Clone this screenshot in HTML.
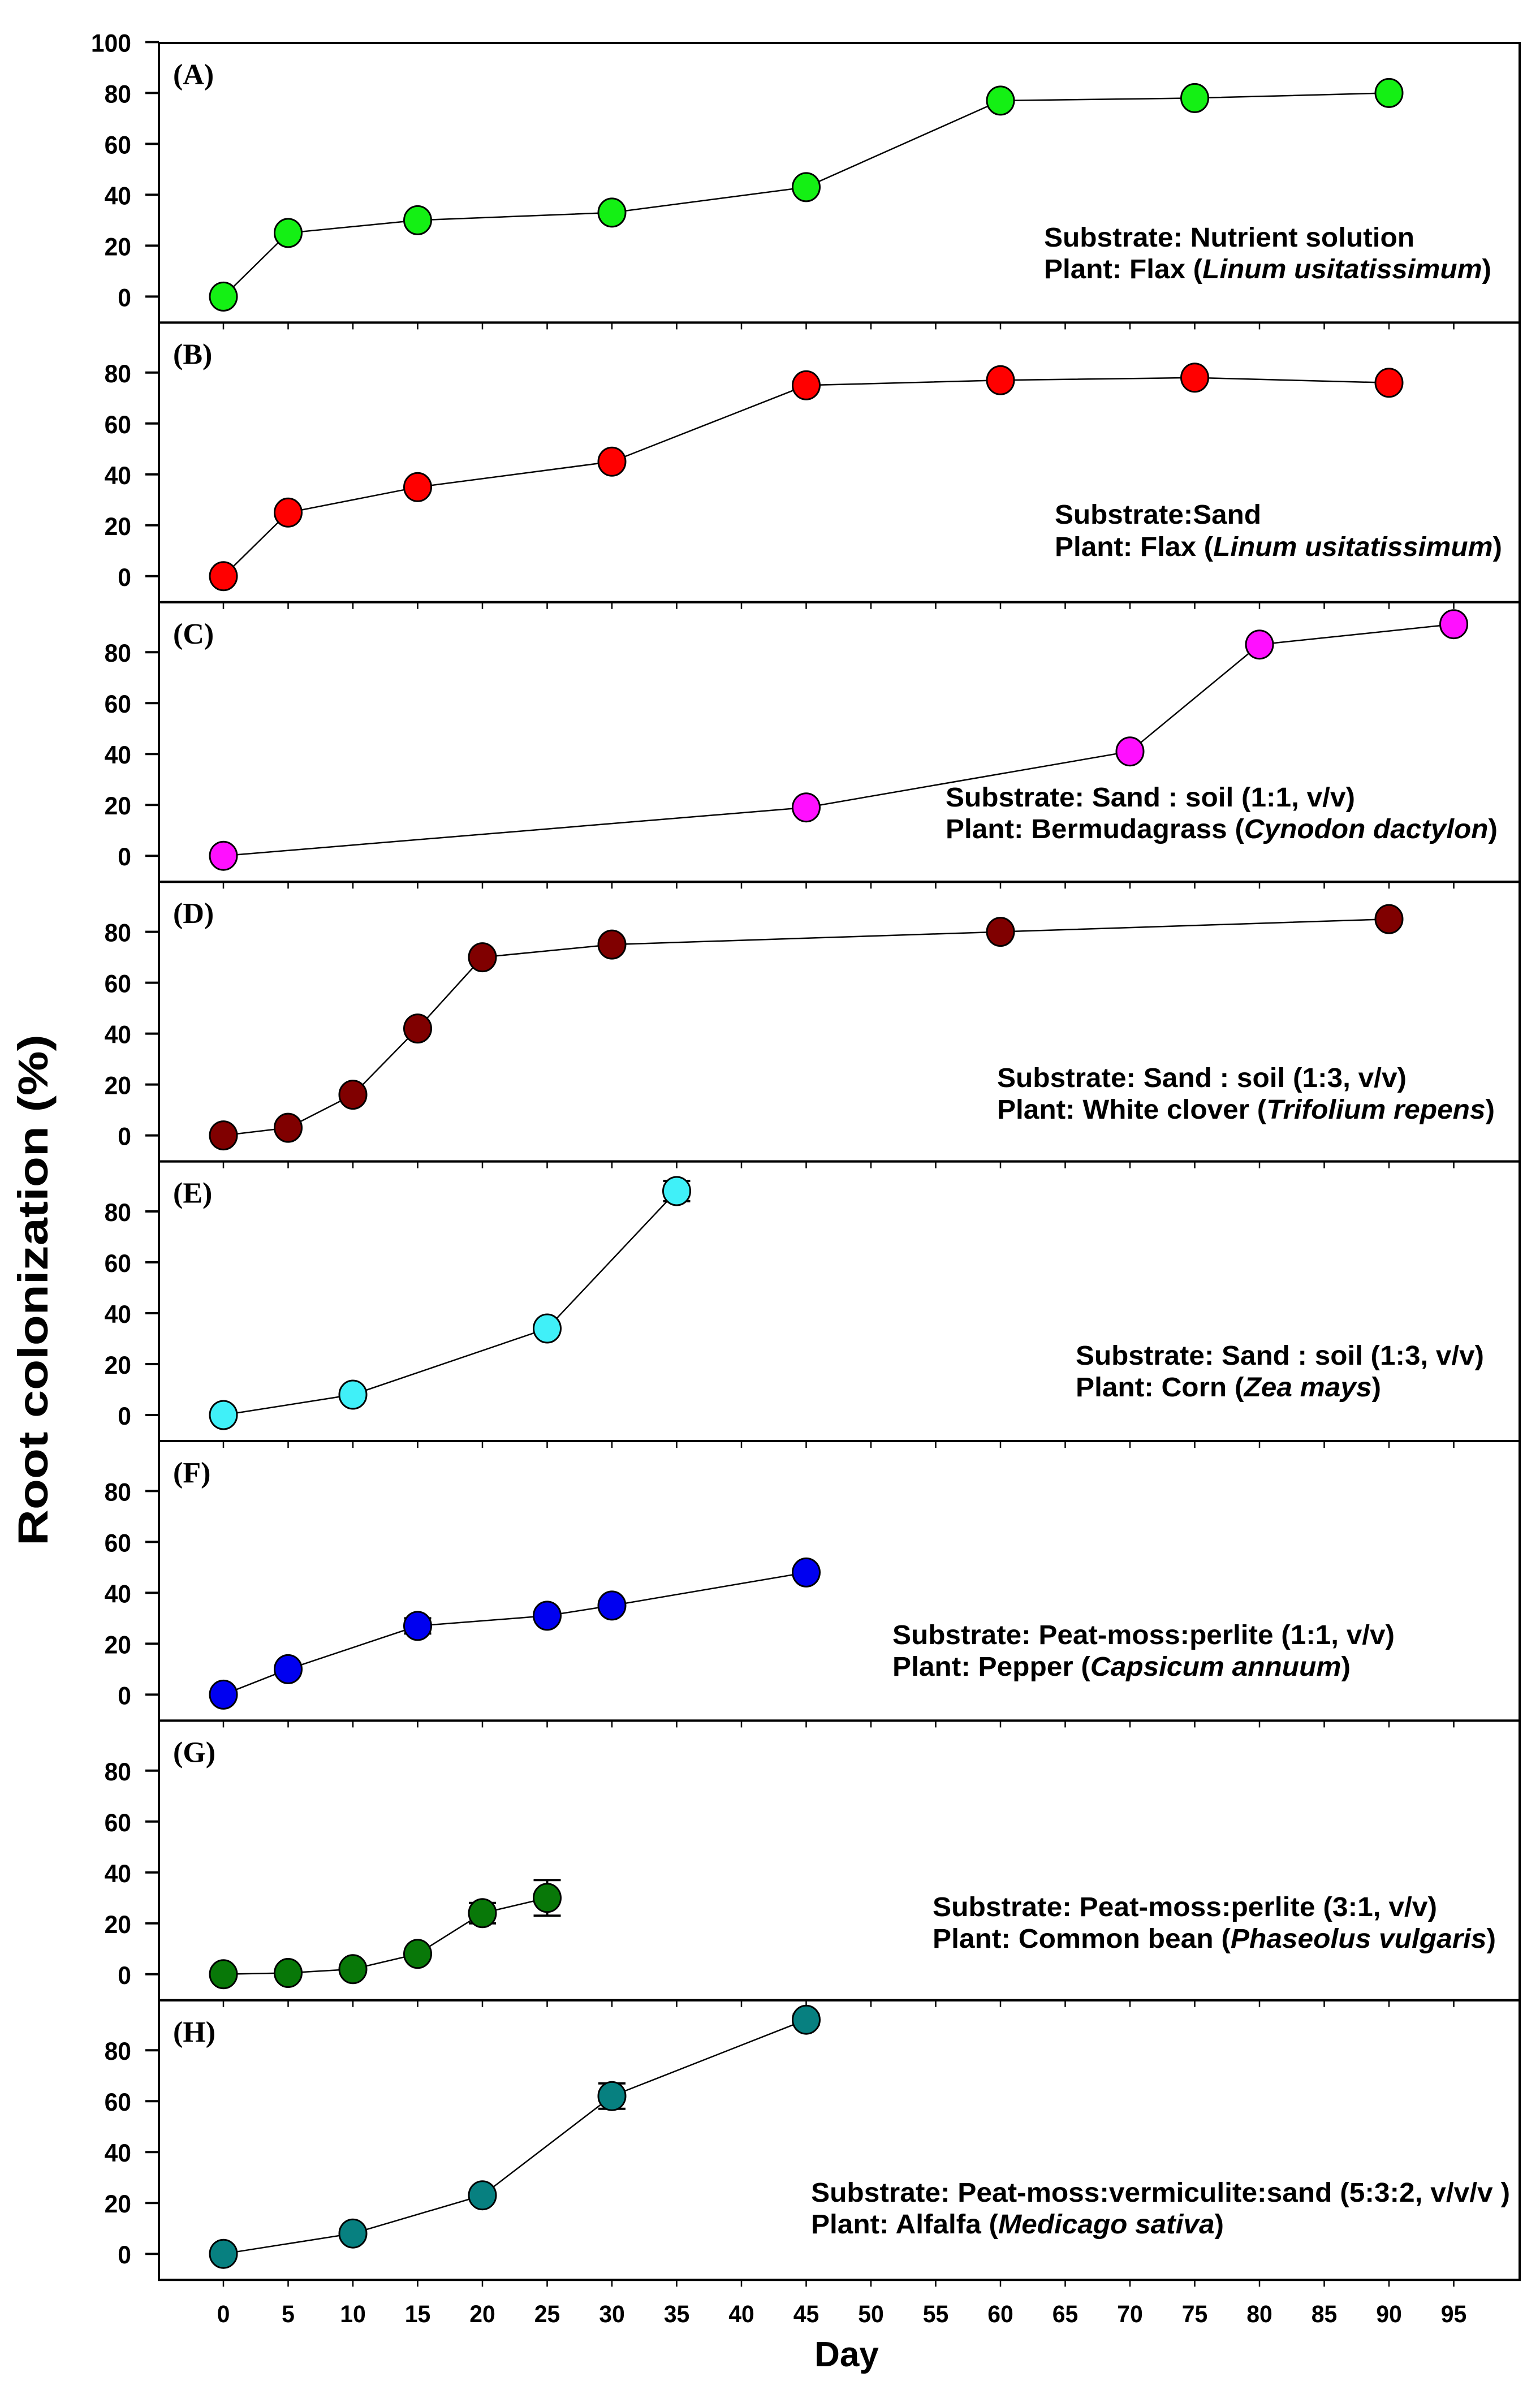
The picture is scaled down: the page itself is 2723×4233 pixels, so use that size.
<!DOCTYPE html>
<html><head><meta charset="utf-8"><style>
html,body{margin:0;padding:0;background:#fff;}
svg{display:block;}
</style></head><body>
<svg id="chart" width="2723" height="4233" viewBox="0 0 2723 4233" xmlns="http://www.w3.org/2000/svg"></svg>
<script>
const days = [0,5,10,15,20,25,30,35,40,45,50,55,60,65,70,75,80,85,90,95];
const panelLabels = ["(A)","(B)","(C)","(D)","(E)","(F)","(G)","(H)"];
const daysA = [0,5,15,30,45,60,75,90];
const valsA = [0,25,30,33,43,77,78,80];
const daysB = [0,5,15,30,45,60,75,90];
const valsB = [0,25,35,45,75,77,78,76];
const daysC = [0,45,70,80,95];
const valsC = [0,19,41,83,91];
const daysD = [0,5,10,15,20,30,60,90];
const valsD = [0,3,16,42,70,75,80,85];
const daysE = [0,10,25,35];
const valsE = [0,8,34,88];
const errE = [0,0,0,4];
const daysF = [0,5,15,25,30,45];
const valsF = [0,10,27,31,35,48];
const errF = [0,0,3,0,0,0];
const daysG = [0,5,10,15,20,25];
const valsG = [0,0.5,2,8,24,30];
const errG = [0,0,0,0,4,7];
const daysH = [0,10,20,30,45];
const valsH = [0,8,23,62,92];
const errH = [0,0,0,5,2];
const yTicksA = [0,20,40,60,80,100];
const yTicks = [0,20,40,60,80];

const panels = [
 {d:daysA,v:valsA,e:null,c:"#14f014",t:[["Substrate: Nutrient solution"],["Plant: Flax (","Linum usitatissimum",")"]],x:1846,b:[436,492],w:[655,791]},
 {d:daysB,v:valsB,e:null,c:"#ff0000",t:[["Substrate:Sand"],["Plant: Flax (","Linum usitatissimum",")"]],x:1865,b:[926,983],w:[365,791]},
 {d:daysC,v:valsC,e:null,c:"#ff10ff",t:[["Substrate: Sand : soil (1:1, v/v)"],["Plant: Bermudagrass (","Cynodon dactylon",")"]],x:1672,b:[1426,1482],w:[724,976]},
 {d:daysD,v:valsD,e:null,c:"#800000",t:[["Substrate: Sand : soil (1:3, v/v)"],["Plant: White clover (","Trifolium repens",")"]],x:1763,b:[1922,1978],w:[724,880]},
 {d:daysE,v:valsE,e:errE,c:"#40f0f8",t:[["Substrate: Sand : soil (1:3, v/v)"],["Plant: Corn (","Zea mays",")"]],x:1902,b:[2413,2469],w:[722,540]},
 {d:daysF,v:valsF,e:errF,c:"#0000f0",t:[["Substrate: Peat-moss:perlite (1:1, v/v)"],["Plant: Pepper (","Capsicum annuum",")"]],x:1578,b:[2907,2963],w:[888,810]},
 {d:daysG,v:valsG,e:errG,c:"#087808",t:[["Substrate: Peat-moss:perlite (3:1, v/v)"],["Plant: Common bean (","Phaseolus vulgaris",")"]],x:1649,b:[3388,3444],w:[892,996]},
 {d:daysH,v:valsH,e:errH,c:"#078080",t:[["Substrate: Peat-moss:vermiculite:sand (5:3:2, v/v/v )"],["Plant: Alfalfa (","Medicago sativa",")"]],x:1434,b:[3893,3949],w:[1236,730]}
];

const NS="http://www.w3.org/2000/svg";
const svg=document.getElementById('chart');
const L=281,R=2687,TOP=76,PH=494.4;
const xs=d=>395+d*22.9;
function mk(tag,attrs,parent){const e=document.createElementNS(NS,tag);for(const k in attrs)e.setAttribute(k,attrs[k]);(parent||svg).appendChild(e);return e;}

panels.forEach((p,i)=>{
  const top=TOP+i*PH, bot=top+PH, zero=bot-46;
  const ys=v=>zero-v*4.5;
  const g=mk('g',{});
  
  
  const fr=mk('rect',{x:L,y:top,width:R-L,height:PH,fill:'none',stroke:'#000','stroke-width':4},g);
  
  
  days.forEach(d=>{const t=mk('line',{x1:xs(d),x2:xs(d),y1:bot,y2:bot+12,stroke:'#000','stroke-width':2.5},g);
    
    });
  (i===0?yTicksA:yTicks).forEach(v=>{
    const t=mk('line',{x1:257,x2:L,y1:ys(v),y2:ys(v),stroke:'#000','stroke-width':4},g);
    
    
    const l=mk('text',{x:0,y:0,'text-anchor':'end','font-family':'Liberation Sans, sans-serif','font-weight':'bold','font-size':52,transform:`translate(232,${ys(v)+17}) scale(0.82,0.85)`},g);
    l.textContent=v;
    
    
  });
  const pl=mk('text',{x:306,y:top+73,'font-family':'Liberation Serif, serif','font-weight':'bold','font-size':52},g);
  pl.textContent=panelLabels[i];
  
  
  const pts=p.d.map((d,j)=>xs(d)+','+ys(p.v[j])).join(' ');
  const ln=mk('polyline',{points:pts,fill:'none',stroke:'#000','stroke-width':2.5},g);
  
  
  p.d.forEach((d,j)=>{
    if(p.e&&p.e[j]>0){
      const x=xs(d),y1=ys(p.v[j]+p.e[j]),y2=ys(p.v[j]-p.e[j]);
      const eb=mk('path',{d:`M${x},${y1}V${y2}M${x-24},${y1}H${x+24}M${x-24},${y2}H${x+24}`,stroke:'#000','stroke-width':4,fill:'none'},g);
      
      
    }
    const c=mk('ellipse',{cx:xs(d),cy:ys(p.v[j]),rx:24,ry:25,fill:p.c,stroke:'#000','stroke-width':3},g);
    
    
  });
  p.t.forEach((parts,k)=>{
    const t=mk('text',{x:p.x,y:p.b[k],'font-family':'Liberation Sans, sans-serif','font-weight':'bold','font-size':48,textLength:p.w[k],lengthAdjust:'spacingAndGlyphs'},g);
    
    
    parts.forEach((s,m)=>{const ts=mk('tspan',m===1?{'font-style':'italic'}:{},t);ts.textContent=s;});
  });
});
days.forEach(d=>{
  const l=mk('text',{x:0,y:0,'text-anchor':'middle','font-family':'Liberation Sans, sans-serif','font-weight':'bold','font-size':50,transform:`translate(${xs(d)},4106) scale(0.82,0.85)`});
  l.textContent=d;
  
  
});
const xt=mk('text',{x:1497,y:4184,'text-anchor':'middle','font-family':'Liberation Sans, sans-serif','font-weight':'bold','font-size':62});
xt.textContent='Day';


const yt=mk('text',{x:0,y:0,'text-anchor':'middle','font-family':'Liberation Sans, sans-serif','font-weight':'bold','font-size':74,transform:'translate(84,2281) rotate(-90)',textLength:904,lengthAdjust:'spacingAndGlyphs'});
yt.textContent='Root colonization (%)';


</script>
</body></html>
